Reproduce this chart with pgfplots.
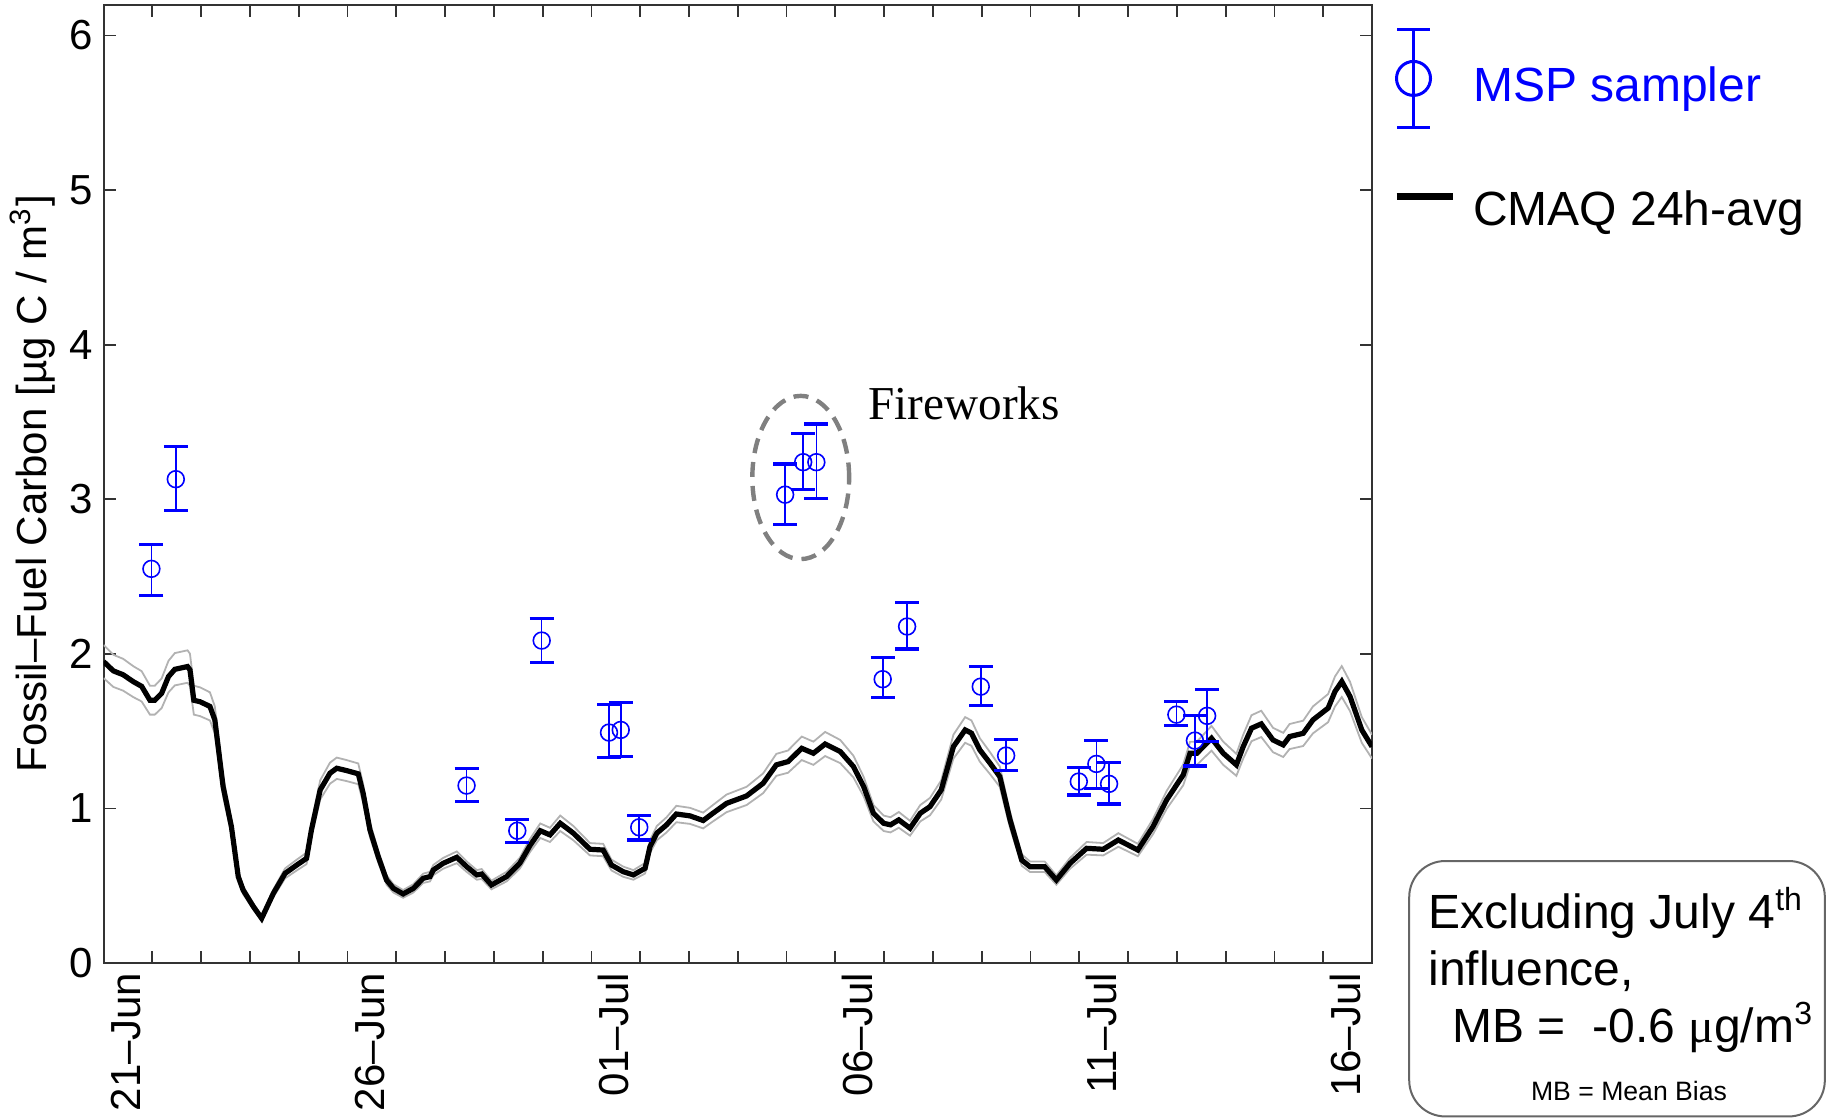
\documentclass[border=0pt]{standalone}
\usepackage{fontspec}
\setmainfont{Liberation Sans}
\newfontfamily\serif{Liberation Serif}
\usepackage{pgfplots}
\pgfplotsset{compat=1.18}
\usepackage{pgfplotstable}

% CMAQ 24h-avg (day 0 = 20 Jun), with upper / lower gray band lines
\pgfplotstableread{
d m hi lo
0.00 1.950 2.057 1.843
0.20 1.890 1.994 1.786
0.40 1.865 1.968 1.762
0.61 1.820 1.920 1.720
0.78 1.790 1.888 1.692
0.95 1.700 1.794 1.607
1.05 1.700 1.794 1.607
1.19 1.745 1.841 1.649
1.33 1.853 1.955 1.751
1.46 1.900 2.005 1.796
1.72 1.918 2.023 1.813
1.77 1.897 2.001 1.793
1.85 1.700 1.794 1.607
1.98 1.690 1.783 1.597
2.18 1.660 1.751 1.569
2.28 1.573 1.660 1.486
2.45 1.141 1.204 1.078
2.62 0.882 0.931 0.833
2.76 0.559 0.590 0.528
2.86 0.472 0.498 0.446
3.07 0.365 0.385 0.345
3.24 0.289 0.305 0.273
3.48 0.451 0.476 0.426
3.72 0.580 0.612 0.548
3.96 0.634 0.669 0.599
4.16 0.677 0.714 0.640
4.26 0.861 0.908 0.814
4.44 1.120 1.182 1.058
4.64 1.228 1.296 1.160
4.78 1.260 1.329 1.191
4.98 1.245 1.313 1.177
5.22 1.224 1.291 1.157
5.32 1.098 1.158 1.038
5.46 0.861 0.908 0.814
5.63 0.688 0.726 0.650
5.80 0.537 0.567 0.507
5.94 0.483 0.510 0.456
6.14 0.447 0.472 0.422
6.35 0.483 0.510 0.456
6.55 0.548 0.578 0.518
6.69 0.559 0.590 0.528
6.76 0.602 0.635 0.569
6.96 0.645 0.680 0.610
7.24 0.684 0.722 0.646
7.44 0.624 0.658 0.590
7.65 0.570 0.601 0.539
7.75 0.576 0.608 0.544
7.95 0.505 0.533 0.477
8.26 0.559 0.590 0.528
8.53 0.645 0.680 0.610
8.74 0.760 0.802 0.718
8.95 0.856 0.903 0.809
9.15 0.829 0.875 0.783
9.36 0.904 0.954 0.854
9.63 0.840 0.886 0.794
9.97 0.736 0.776 0.696
10.24 0.731 0.771 0.691
10.41 0.634 0.669 0.599
10.65 0.591 0.624 0.558
10.86 0.570 0.601 0.539
11.10 0.613 0.647 0.579
11.20 0.753 0.794 0.712
11.34 0.840 0.886 0.794
11.54 0.894 0.943 0.845
11.74 0.964 1.017 0.911
12.02 0.952 1.004 0.900
12.29 0.922 0.973 0.871
12.49 0.969 1.022 0.916
12.77 1.033 1.090 0.976
13.18 1.081 1.140 1.022
13.52 1.163 1.227 1.099
13.79 1.282 1.353 1.211
14.03 1.303 1.375 1.231
14.31 1.389 1.465 1.313
14.55 1.357 1.432 1.282
14.79 1.417 1.495 1.339
15.10 1.368 1.443 1.293
15.37 1.271 1.341 1.201
15.58 1.141 1.204 1.078
15.78 0.969 1.022 0.916
15.99 0.904 0.954 0.854
16.13 0.894 0.943 0.845
16.30 0.926 0.977 0.875
16.53 0.872 0.920 0.824
16.74 0.969 1.022 0.916
16.94 1.012 1.068 0.956
17.17 1.120 1.182 1.058
17.42 1.400 1.477 1.323
17.66 1.508 1.591 1.425
17.79 1.487 1.569 1.405
17.96 1.379 1.455 1.303
18.17 1.293 1.364 1.222
18.37 1.206 1.272 1.140
18.58 0.926 0.977 0.875
18.82 0.666 0.703 0.629
18.99 0.623 0.657 0.589
19.29 0.623 0.657 0.589
19.53 0.537 0.567 0.507
19.81 0.645 0.680 0.610
20.15 0.742 0.783 0.701
20.49 0.736 0.776 0.696
20.80 0.796 0.840 0.752
21.20 0.731 0.771 0.691
21.51 0.882 0.931 0.833
21.79 1.055 1.113 0.997
22.13 1.217 1.284 1.150
22.27 1.357 1.432 1.282
22.41 1.357 1.432 1.282
22.71 1.454 1.534 1.374
22.95 1.357 1.432 1.282
23.22 1.282 1.353 1.211
23.36 1.400 1.477 1.323
23.53 1.519 1.603 1.435
23.73 1.547 1.632 1.462
23.97 1.443 1.522 1.364
24.18 1.411 1.489 1.333
24.31 1.465 1.546 1.384
24.59 1.486 1.568 1.404
24.79 1.573 1.660 1.486
25.10 1.649 1.740 1.558
25.24 1.756 1.853 1.659
25.38 1.821 1.921 1.721
25.55 1.724 1.819 1.629
25.79 1.508 1.591 1.425
26.00 1.400 1.477 1.323
}\cmaq

% MSP sampler: value, error plus, error minus
\pgfplotstableread{
d v ep em
0.98 2.550 0.160 0.170
1.48 3.130 0.210 0.200
7.44 1.148 0.108 0.104
8.48 0.856 0.074 0.075
8.98 2.086 0.144 0.142
10.36 1.491 0.179 0.160
10.60 1.508 0.179 0.173
10.98 0.878 0.075 0.082
13.97 3.030 0.198 0.191
14.34 3.240 0.186 0.179
14.61 3.240 0.247 0.237
15.97 1.836 0.140 0.119
16.47 2.177 0.153 0.145
17.98 1.788 0.130 0.122
18.50 1.342 0.106 0.099
19.99 1.174 0.090 0.087
20.35 1.288 0.149 0.157
20.61 1.159 0.138 0.130
21.99 1.607 0.087 0.073
22.37 1.439 0.162 0.164
22.62 1.599 0.168 0.167
}\msp

\begin{document}
\begin{tikzpicture}
\useasboundingbox (0,0) rectangle (456.5pt,279.5pt);
\begin{axis}[
  at={(25.9pt,38.75pt)}, anchor=south west,
  scale only axis, width=317.1pt, height=239.6pt,
  xmin=0, xmax=26, ymin=0, ymax=6.2,
  xtick={1,6,11,16,21,26},
  xticklabels={21--Jun,26--Jun,01--Jul,06--Jul,11--Jul,16--Jul},
  minor xtick={2,3,4,5,7,8,9,10,12,13,14,15,17,18,19,20,22,23,24,25},
  ytick={0,1,2,3,4,5,6},
  tick align=inside,
  major tick length=3pt, minor tick length=3pt,
  axis line style={black!80, line width=0.45pt},
  tick style={black!80, line width=0.45pt},
  /pgf/number format/assume math mode=true,
  tick label style={font=\fontsize{10.5}{12}\selectfont},
  yticklabel style={anchor=east, inner sep=0pt},
  yticklabel shift=2.4pt,
  xticklabel style={rotate=90, anchor=base east, inner sep=0pt, yshift=3pt},
  xticklabel shift=2.35pt,
  every axis y label/.style={at={(rel axis cs:-0.056,0.5)}, rotate=90, anchor=center,
    font=\fontsize{10.5}{12}\selectfont},
  ylabel={Fossil--Fuel Carbon [µg C / m\textsuperscript{3}]},
  legend style={at={(rel axis cs:1,1)}, anchor=north west, xshift=5.25pt, yshift=-5.75pt,
    draw=none, fill=none, inner sep=0pt, outer sep=0pt,
    row sep=15.3pt, column sep=4.3pt,
    font=\fontsize{12}{14}\selectfont, nodes={inner sep=0pt}},
  legend cell align=left,
]
\addlegendimage{legend image code/.code={
  \draw[blue, line width=0.9pt] (0.15pt,14.5pt) -- (8.35pt,14.5pt);
  \draw[blue, line width=0.9pt] (0.15pt,-10pt) -- (8.35pt,-10pt);
  \draw[blue, line width=0.7pt] (4.25pt,-10pt) -- (4.25pt,14.5pt);
  \draw[blue, line width=0.75pt] (4.25pt,2.25pt) circle (4.25pt);
}}
\addlegendentry{\textcolor{blue}{MSP sampler}}
\addlegendimage{legend image code/.code={
  \draw[black, line width=1.75pt] (0pt,3.5pt) -- (14pt,3.5pt);
}}
\addlegendentry{CMAQ 24h-avg}

\addplot[forget plot, black!30, line width=0.45pt] table[x=d, y=hi] {\cmaq};
\addplot[forget plot, black!30, line width=0.45pt] table[x=d, y=lo] {\cmaq};
\addplot[forget plot, black, line width=1.3pt] table[x=d, y=m] {\cmaq};

\addplot[forget plot, only marks, mark=o, blue, mark size=2.1pt,
  mark options={line width=0.4pt},
  error bars/.cd, y dir=both, y explicit,
  error bar style={line width=0.4pt, blue},
  error mark options={rotate=90, mark size=3pt, line width=0.8pt, blue}]
  table[x=d, y=v, y error plus=ep, y error minus=em] {\msp};

\draw[black!50, line width=1.1pt, dash pattern=on 3.75pt off 2.25pt]
  (axis cs:14.29,3.141) ellipse [x radius=12.1pt, y radius=20.4pt];
\node[anchor=base west, inner sep=0pt, font={\serif\fontsize{11.8}{13}\selectfont}]
  at (axis cs:15.66,3.515) {Fireworks};
\end{axis}

\draw[black!60, line width=0.5pt, rounded corners=9pt] (352.3pt,0.4pt) rectangle (456.2pt,64.25pt);
\node[anchor=base west, inner sep=0pt, font=\fontsize{12}{14}\selectfont] at (356.9pt,47.5pt)
  {Excluding July 4\textsuperscript{th}};
\node[anchor=base west, inner sep=0pt, font=\fontsize{12}{14}\selectfont] at (356.9pt,33.25pt)
  {influence,};
\node[anchor=base west, inner sep=0pt, font=\fontsize{12}{14}\selectfont] at (362.9pt,19pt)
  {MB =\ \ -0.6 {\serif μ}g/m\textsuperscript{3}};
\node[anchor=base, inner sep=0pt, font=\fontsize{6.65}{8}\selectfont] at (407.25pt,4.5pt)
  {MB = Mean Bias};
\end{tikzpicture}
\end{document}
